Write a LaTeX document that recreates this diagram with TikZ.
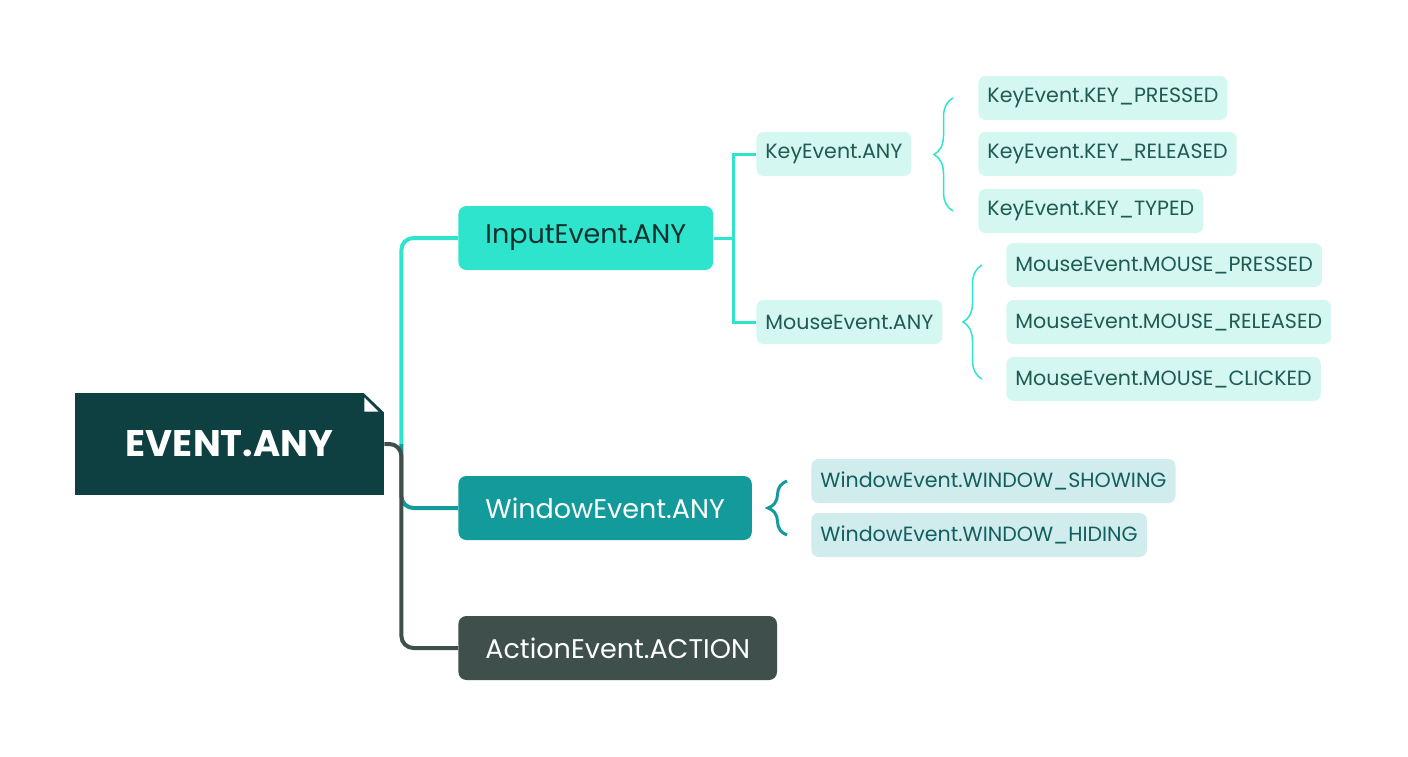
\documentclass[tikz,border=0pt]{standalone}
\usepackage{fontspec}
\setmainfont{Poppins}
\usetikzlibrary{calc,decorations.pathreplacing}

\definecolor{rootc}{HTML}{0E3F41}
\definecolor{inputc}{HTML}{2FE4CC}
\definecolor{windowc}{HTML}{139A9B}
\definecolor{actionc}{HTML}{3F4F4B}
\definecolor{leafc}{HTML}{D5F7F1}
\definecolor{winleafc}{HTML}{D0ECEC}
\definecolor{inputtext}{HTML}{10302E}
\definecolor{leaftext}{HTML}{1F5B55}
\definecolor{wintext}{HTML}{135E60}

\begin{document}
\begin{tikzpicture}[x=0.5pt,y=-0.5pt,
  main/.style={rounded corners=4pt, minimum height=32pt, inner xsep=13.5pt, font=\fontsize{13.5}{16}\selectfont},
  sub/.style={rounded corners=3.5pt, minimum height=22pt, inner xsep=4.5pt, font=\fontsize{10.3}{12}\selectfont},
  thick line/.style={line width=2pt, rounded corners=6pt},
  thin line/.style={line width=1.5pt, draw=inputc},
  groupbrace/.style={decorate, decoration={brace, amplitude=9.5pt}}]
  \useasboundingbox (0,0) rectangle (1408,756);
  % root
  \node[fill=rootc, text=white, minimum width=154.5pt, minimum height=51pt, font=\bfseries\fontsize{18.5}{20}\selectfont] (root) at (229.5,444) {EVENT.ANY};
  \fill[white] ($(root.north east)+(-21,0)$) -- (root.north east) -- ++(0,20) -- cycle;
  \fill[white] ($(root.north east)+(-20,5)$) -- ++(0,14) -- ++(14,0) -- cycle;
  % first level
  \node[main, fill=inputc, text=inputtext, anchor=west] (input) at (458,238) {InputEvent.ANY};
  \node[main, fill=windowc, text=white, anchor=west] (window) at (458,508) {WindowEvent.ANY};
  \node[main, fill=actionc, text=white, anchor=west] (action) at (458,648) {ActionEvent.ACTION};
  % second level
  \node[sub, fill=leafc, text=leaftext, anchor=west] (key) at (756,154) {KeyEvent.ANY};
  \node[sub, fill=leafc, text=leaftext, anchor=west] (mouse) at (756,322) {MouseEvent.ANY};
  % leaves
  \node[sub, fill=leafc, text=leaftext, anchor=west] (kp) at (978,98) {KeyEvent.KEY\_PRESSED};
  \node[sub, fill=leafc, text=leaftext, anchor=west] (kr) at (978,154) {KeyEvent.KEY\_RELEASED};
  \node[sub, fill=leafc, text=leaftext, anchor=west] (kt) at (978,211) {KeyEvent.KEY\_TYPED};
  \node[sub, fill=leafc, text=leaftext, anchor=west] (mp) at (1006,265) {MouseEvent.MOUSE\_PRESSED};
  \node[sub, fill=leafc, text=leaftext, anchor=west] (mr) at (1006,322) {MouseEvent.MOUSE\_RELEASED};
  \node[sub, fill=leafc, text=leaftext, anchor=west] (mc) at (1006,379) {MouseEvent.MOUSE\_CLICKED};
  \node[sub, fill=winleafc, text=wintext, anchor=west] (ws) at (811,481) {WindowEvent.WINDOW\_SHOWING};
  \node[sub, fill=winleafc, text=wintext, anchor=west] (wh) at (811,535) {WindowEvent.WINDOW\_HIDING};
  % connectors
  \coordinate (hub) at ($(root.east)+(17,0)$);
  \coordinate (ihub) at ($(input.east)+(20,0)$);
  \draw[thick line, draw=inputc] (hub) |- (input.west);
  \draw[thick line, draw=windowc] (hub) |- (window.west);
  \draw[thick line, draw=actionc] (root.east) -- (hub) |- (action.west);
  \draw[thin line] (input.east) -- (ihub) |- (key.west);
  \draw[thin line] (ihub) |- (mouse.west);
  % braces
  \draw[groupbrace, draw=inputc, line width=0.75pt] ($(kt.west)+(-25,0)$) -- ($(kp.west)+(-25,0)$);
  \draw[groupbrace, draw=inputc, line width=0.75pt] ($(mc.west)+(-24,0)$) -- ($(mp.west)+(-24,0)$);
  \draw[groupbrace, draw=windowc, line width=1.5pt] ($(wh.west)+(-24,0)$) -- ($(ws.west)+(-24,0)$);
\end{tikzpicture}
\end{document}
